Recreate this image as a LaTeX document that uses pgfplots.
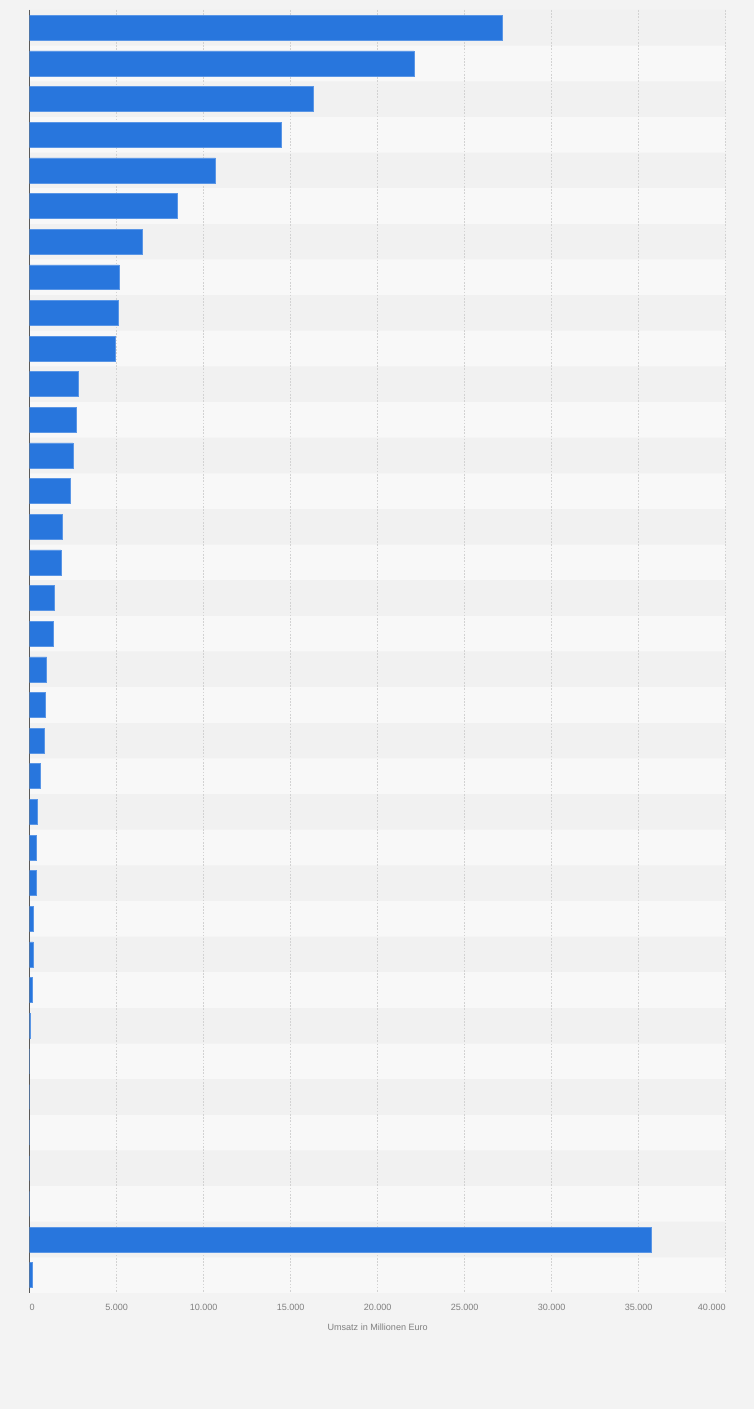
\documentclass[border=0pt]{standalone}
\usepackage{fontspec}
\setmainfont{Liberation Sans}
\usepackage{xcolor}
\usepackage{pgfplots}
\usepackage{pgfplotstable}
\pgfplotsset{compat=1.18}
\definecolor{pagebg}{HTML}{F3F3F3}
\definecolor{banddark}{HTML}{F1F1F1}
\definecolor{bandlight}{HTML}{F8F8F8}
\definecolor{barblue}{HTML}{2876DD}
\definecolor{baredge}{HTML}{5A96E6}
\definecolor{gridcol}{HTML}{D2D2D2}
\definecolor{txtgray}{HTML}{808080}
\pagecolor{pagebg}

\pgfplotstableread{
row value
1 27160
2 22080
3 16290
4 14440
5 10675
6 8500
7 6460
8 5135
9 5080
10 4905
11 2790
12 2650
13 2480
14 2310
15 1850
16 1790
17 1440
18 1330
19 980
20 900
21 865
22 635
23 460
24 385
25 385
26 210
27 210
28 155
29 60
30 0
31 0
32 0
33 0
34 0
35 35730
36 135
}\datatable

\pgfplotstableread{
row value
1 40000
3 40000
5 40000
7 40000
9 40000
11 40000
13 40000
15 40000
17 40000
19 40000
21 40000
23 40000
25 40000
27 40000
29 40000
31 40000
33 40000
35 40000
}\darkbands

\pgfplotstableread{
row value
2 40000
4 40000
6 40000
8 40000
10 40000
12 40000
14 40000
16 40000
18 40000
20 40000
22 40000
24 40000
26 40000
28 40000
30 40000
32 40000
34 40000
36 40000
}\lightbands

\begin{document}%
\begin{tikzpicture}
\begin{axis}[
  set layers,
  at={(22.25pt,87pt)}, anchor=south west,
  scale only axis,
  width=522pt, height=962.25pt,
  xmin=0, xmax=40000,
  ymin=0.5, ymax=36.5,
  y dir=reverse,
  enlargelimits=false,
  axis x line*=bottom, axis y line*=left,
  x axis line style={draw=none},
  y axis line style={draw=black!65, line width=0.9pt},
  xtick={0,5000,10000,15000,20000,25000,30000,35000,40000},
  xticklabels={\makebox[0pt][l]{0},5.000,10.000,15.000,20.000,25.000,30.000,35.000,\makebox[0pt][r]{40.000}},
  ytick=\empty,
  major tick length=0pt,
  xmajorgrids=true,
  grid style={gridcol, dash pattern=on 1.2pt off 1.2pt, line width=0.5pt},
  scaled x ticks=false,
  xticklabel style={font=\fontsize{6.8}{8}\selectfont, text=txtgray, yshift=-5pt},
  xlabel={Umsatz in Millionen Euro},
  xlabel style={font=\fontsize{6.8}{8}\selectfont, text=txtgray, yshift=-3pt},
]
\addplot[xbar, bar width=1, fill=banddark, draw=none, on layer=axis background] table[x=value, y=row] {\darkbands};
\addplot[xbar, bar width=1, fill=bandlight, draw=none, on layer=axis background] table[x=value, y=row] {\lightbands};
\addplot[xbar, bar width=0.7, fill=barblue, draw=baredge, line width=0.4pt] table[x=value, y=row] {\datatable};
\end{axis}
\pgfresetboundingbox
\path (0,0) rectangle (565.5pt,1056.75pt);
\end{tikzpicture}%
\end{document}
